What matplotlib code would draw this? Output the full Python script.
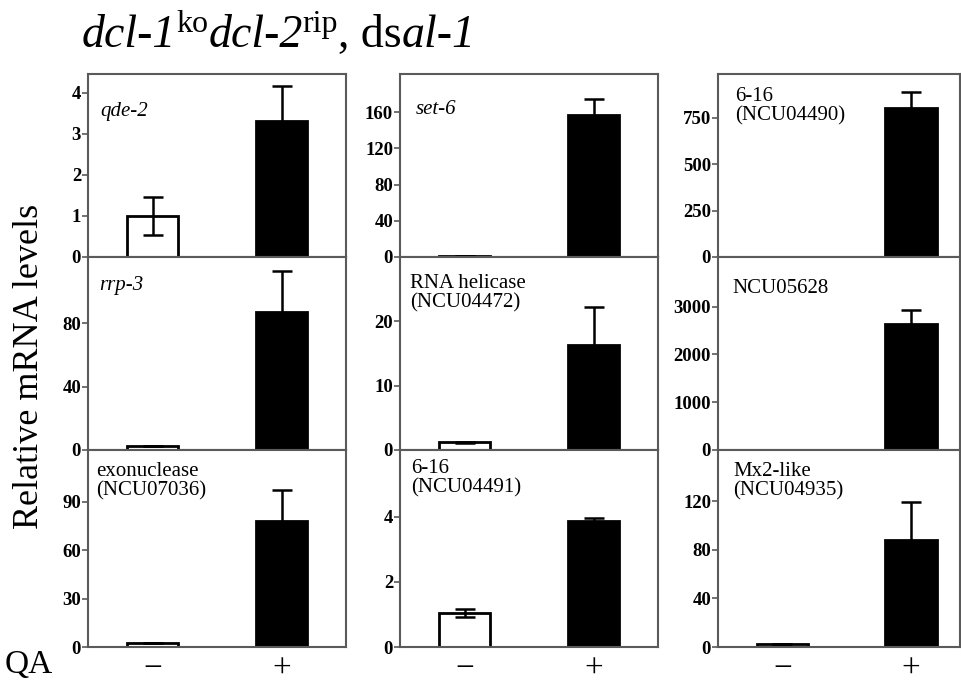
import numpy as np
import matplotlib.pyplot as plt

plt.rcParams['font.family'] = ['Liberation Serif', 'DejaVu Serif']

# panels in reading order (row by row)
genes = ["qde-2", "set-6", "6-16\n(NCU04490)",
         "rrp-3", "RNA helicase\n(NCU04472)", "NCU05628",
         "exonuclease\n(NCU07036)", "6-16\n(NCU04491)", "Mx2-like\n(NCU04935)"]
italic = [True, True, False, True, False, False, False, False, False]

minus_vals = [1.0, 1.5, 1.0, 2.5, 1.2, 1.0, 2.5, 1.05, 2.5]
minus_err = [0.47, 0, 0, 0, 0.1, 0, 0, 0.13, 0]
plus_vals = [3.32, 157, 800, 87, 16.3, 2640, 78, 3.88, 88]
plus_err = [0.85, 17, 90, 26, 5.9, 295, 19.5, 0.1, 31]

ymax = [4.46, 202, 985, 122, 30, 4040, 122, 6.06, 162]
yticks = [[0, 1, 2, 3, 4], [0, 40, 80, 120, 160], [0, 250, 500, 750],
          [0, 40, 80], [0, 10, 20], [0, 1000, 2000, 3000],
          [0, 30, 60, 90], [0, 2, 4], [0, 40, 80, 120]]

qa_labels = ["\u2212", "+"]

# title pieces: text, italic?, superscript?
title_parts = [("dcl-1", True, False), ("ko", False, True),
               ("dcl-2", True, False), ("rip", False, True),
               (", ds", False, False), ("al-1", True, False)]

W, H = 962, 687
col_px = [(88, 346), (400, 658), (718, 960)]
col_xlim = [(-0.5, 1.5), (-0.5, 1.5), (-0.5, 1.38)]
row_px = [(74, 257), (257, 450), (450, 647)]
# label offset from the top-left corner of each panel (pixels, right / down)
lab_off = [(12, 28), (16, 26), (17, 13),
           (11, 19), (10, 17), (14, 22),
           (8, 12), (11, 9), (15, 12)]

spine_col = '#5a5a5a'

fig = plt.figure(figsize=(W / 100, H / 100), dpi=100)

for i, gene in enumerate(genes):
    r, c = divmod(i, 3)
    x0, x1 = col_px[c]
    y0, y1 = row_px[r]
    ax = fig.add_axes([x0 / W, 1 - y1 / H, (x1 - x0) / W, (y1 - y0) / H])
    ax.bar([0, 1], [minus_vals[i], plus_vals[i]], width=0.40,
           color=['white', 'black'], edgecolor='black', linewidth=2, zorder=2)
    ax.errorbar([0, 1], [minus_vals[i], plus_vals[i]],
                yerr=[minus_err[i], plus_err[i]], fmt='none', ecolor='black',
                elinewidth=1.8, capsize=7, capthick=1.8, zorder=3)
    ax.set_xlim(*col_xlim[c])
    ax.set_ylim(0, ymax[i])
    ax.set_yticks(yticks[i])
    ax.set_yticklabels([str(t) for t in yticks[i]], fontweight='bold', fontsize=13.5)
    ax.tick_params(axis='y', direction='out', length=4, width=1.2, color=spine_col, pad=1)
    for s in ax.spines.values():
        s.set_color(spine_col)
        s.set_linewidth(1.5)
    if r == 2:
        ax.set_xticks([0, 1])
        ax.set_xticklabels(qa_labels, fontsize=24)
        ax.tick_params(axis='x', length=0, pad=5)
    else:
        ax.set_xticks([])
    ax.annotate(gene, xy=(0, 1), xycoords='axes fraction',
                xytext=(lab_off[i][0], -lab_off[i][1]), textcoords='offset pixels',
                va='top', ha='left', fontsize=15, linespacing=1.0,
                style='italic' if italic[i] else 'normal')

# title built from pieces so that digits stay italic
renderer = fig.canvas.get_renderer()
x = 82
base = 1 - 47 / H
for txt, it, sup in title_parts:
    t = fig.text(x / W, base + (15 / H if sup else 0), txt,
                 fontsize=23 if sup else 33, style='italic' if it else 'normal',
                 va='baseline', ha='left')
    x += t.get_window_extent(renderer).width

fig.text(30 / W, 1 - 366 / H, "Relative mRNA levels", rotation=90,
         fontsize=26, va='center', ha='center')
fig.text(5 / W, 1 - 665 / H, "QA", fontsize=24, va='center', ha='left')

plt.savefig("out.png", dpi=100)
